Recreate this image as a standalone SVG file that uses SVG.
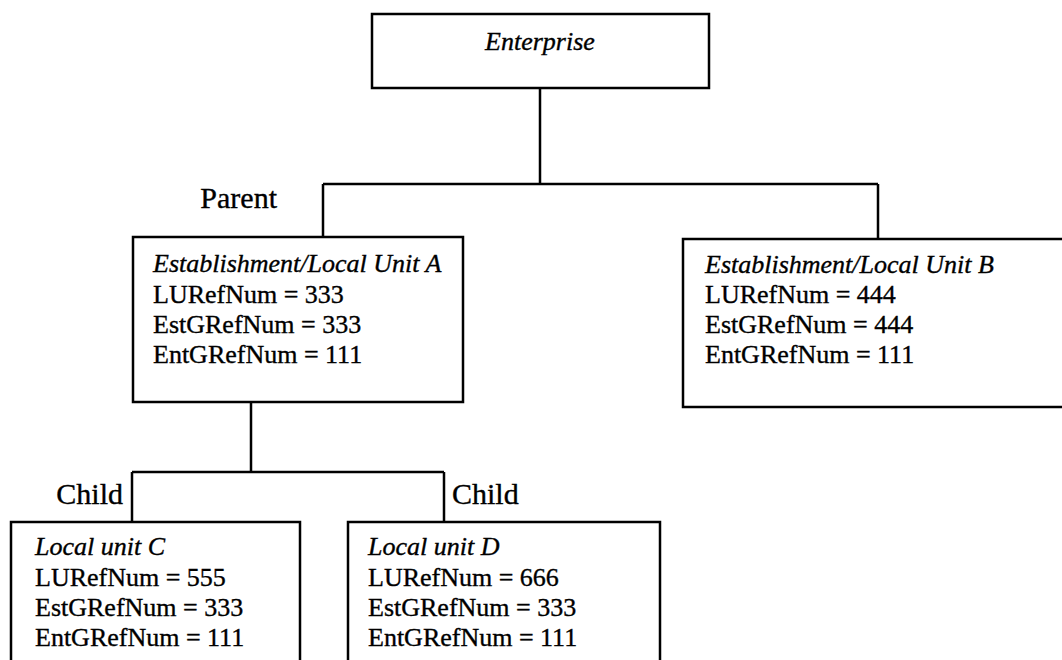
<svg xmlns="http://www.w3.org/2000/svg" width="1062" height="660" viewBox="0 0 1062 660">
<style>
.box{fill:#fff;stroke:#000;stroke-width:2.5}
.ln{fill:none;stroke:#000;stroke-width:2.5}
text{font-family:"Liberation Serif","Times New Roman",serif;font-size:26px;fill:#000;stroke:#000;stroke-width:0.35}
.it{font-style:italic}
.lbl{font-size:30px}
</style>
<rect width="1062" height="660" fill="#fff"/>
<g id="connectors">
<path class="ln" d="M540,88 V184 M323,184 H878 M323,184 V237 M878,184 V239"/>
<path class="ln" d="M251,402 V472 M132,472 H444 M132,472 V522 M444,472 V522"/>
</g>
<g id="labels">
<text class="lbl" x="277" y="208" text-anchor="end">Parent</text>
<text class="lbl" x="123" y="504" text-anchor="end">Child</text>
<text class="lbl" x="452" y="504">Child</text>
</g>
<g id="enterprise">
<rect class="box" x="372" y="14" width="337" height="74"/>
<text class="it" x="540" y="50" text-anchor="middle">Enterprise</text>
</g>
<g id="unitA">
<rect class="box" x="133" y="237" width="330" height="165"/>
<text class="it" x="153" y="272">Establishment/Local Unit A</text>
<text x="153" y="303">LURefNum = 333</text>
<text x="153" y="333">EstGRefNum = 333</text>
<text x="153" y="363">EntGRefNum = 111</text>
</g>
<g id="unitB">
<rect class="box" x="683" y="239" width="400" height="168"/>
<text class="it" x="705" y="273">Establishment/Local Unit B</text>
<text x="705" y="303">LURefNum = 444</text>
<text x="705" y="333">EstGRefNum = 444</text>
<text x="705" y="363">EntGRefNum = 111</text>
</g>
<g id="unitC">
<rect class="box" x="11" y="522" width="289" height="160"/>
<text class="it" x="35" y="555">Local unit C</text>
<text x="35" y="586">LURefNum = 555</text>
<text x="35" y="616">EstGRefNum = 333</text>
<text x="35" y="646">EntGRefNum = 111</text>
</g>
<g id="unitD">
<rect class="box" x="348" y="522" width="312" height="160"/>
<text class="it" x="368" y="555">Local unit D</text>
<text x="368" y="586">LURefNum = 666</text>
<text x="368" y="616">EstGRefNum = 333</text>
<text x="368" y="646">EntGRefNum = 111</text>
</g>
</svg>
